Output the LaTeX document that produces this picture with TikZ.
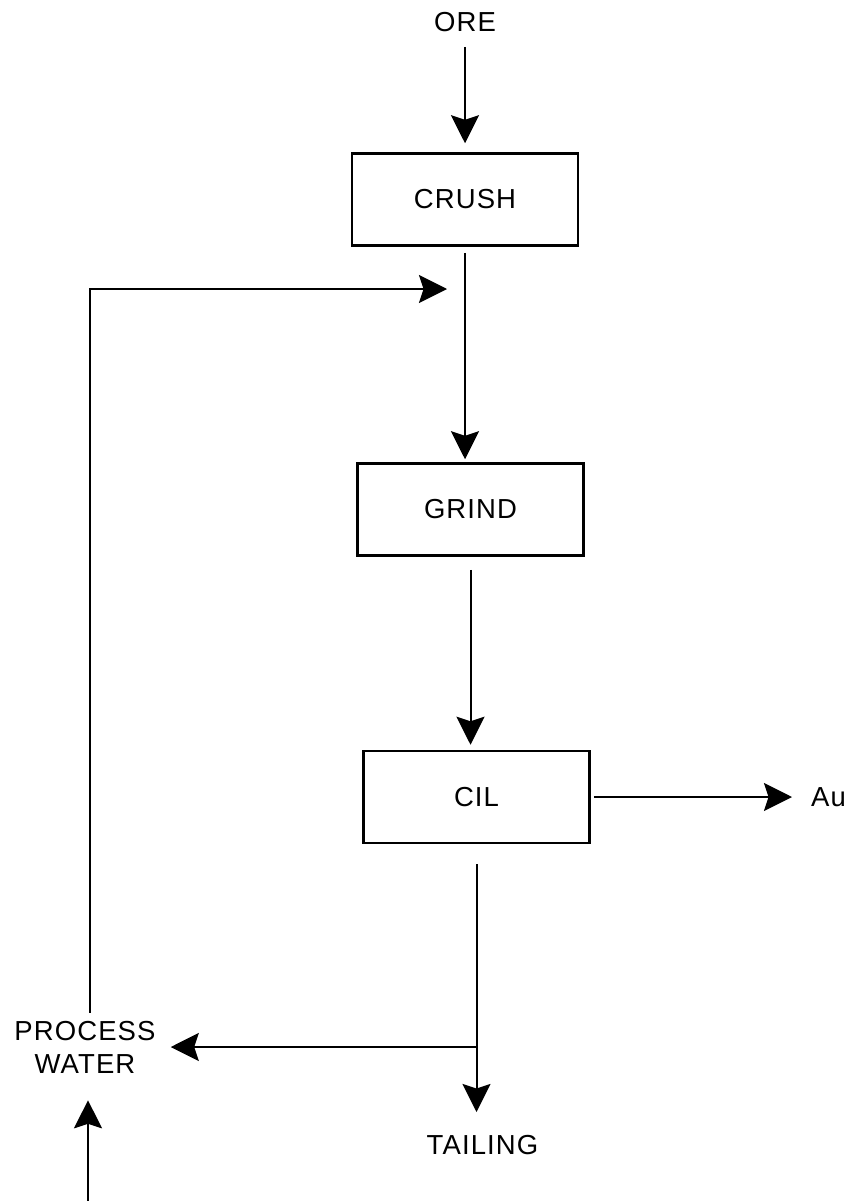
\documentclass[tikz,border=0pt]{standalone}
\usepackage{fontspec}
\setmainfont{Liberation Sans}[LetterSpace=4]
\usetikzlibrary{arrows.meta}
\tikzset{unit/.style={draw,line width=2.5pt,minimum width=226pt,minimum height=92pt,inner sep=0pt},
flow/.style={line width=2pt,-{Stealth[length=28pt,width=28pt,inset=4.5pt]}},
pipe/.style={line width=2pt},
lbl/.style={inner sep=0pt,font=\fontsize{27.5}{33}\selectfont}}
\begin{document}
\begin{tikzpicture}[x=1pt,y=-1pt]
\useasboundingbox(0,0)rectangle(853,1201);
\node[lbl](ore)at(465,22){ORE};
\node[unit,lbl](crush)at(465,199.5){CRUSH};\node[unit,lbl](grind)at(470.5,509.5){GRIND};\node[unit,lbl](cil)at(476.5,797){CIL};
\node[lbl,anchor=west](au)at(811,797){Au};\node[lbl](tail)at(482.5,1145.5){TAILING};
\node[lbl,align=center](pw)at(85,1047){PROCESS\\WATER};
\coordinate(split)at(cil.south|-pw.east);\coordinate(loopin)at(447,289);\coordinate(src)at(88,1201);
\draw[flow]([yshift=-25pt]ore.center)--([yshift=9pt]crush.north);
\draw[flow]([yshift=-6pt]crush.south)--([yshift=3pt]crush.south|-grind.north);
\draw[flow]([yshift=-13pt]grind.south)--([yshift=5pt]grind.south|-cil.north);
\draw[flow]([xshift=3pt]cil.east)--([xshift=-19pt]au.west|-cil.east);
\draw[pipe]([yshift=-20pt]cil.south)--(split);\draw[flow](split)--([yshift=33.5pt]split|-tail.center);
\draw[flow](split)--([xshift=15pt]pw.east);
\draw[flow]([xshift=5pt,yshift=8pt]pw.north)|-(loopin);
\draw[flow](src)--([xshift=3pt,yshift=-27pt]pw.south);
\end{tikzpicture}
\end{document}
